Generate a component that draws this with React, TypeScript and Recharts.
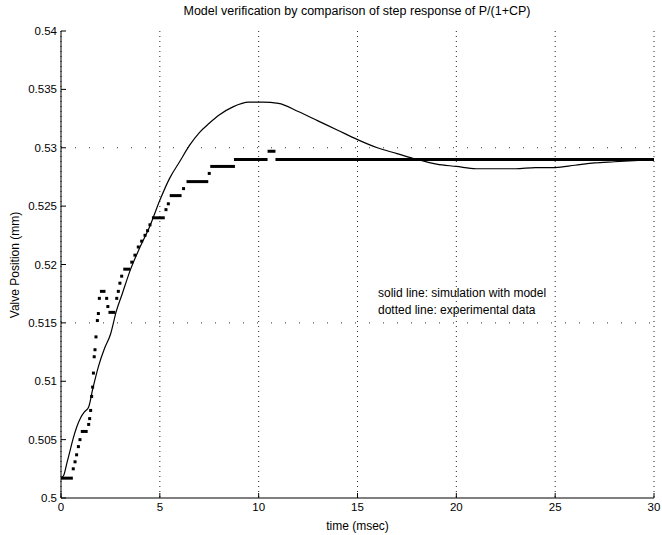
import React from 'react';
import { ComposedChart, Line, Scatter, XAxis, YAxis, CartesianGrid, ReferenceLine, Label } from 'recharts';

// simulation with model (solid line)
const simTime = [0, 0.15, 0.3, 0.45, 0.6, 0.8, 1.0, 1.2, 1.4, 1.6, 1.9, 2.2, 2.5, 2.8, 3.1, 3.5, 4.0, 4.5, 5.0, 5.5, 6.0, 6.5, 7.0, 7.5, 8.0, 8.7, 9.5, 10.2, 11.0, 12.0, 13.0, 14.0, 15.0, 16.0, 17.0, 18.0, 19.0, 20.0, 21.0, 22.0, 23.0, 24.0, 25.0, 26.0, 27.0, 28.0, 29.0, 30.0];
const simValue = [0.5017, 0.502, 0.503, 0.504, 0.505, 0.5061, 0.5069, 0.5074, 0.5078, 0.5093, 0.5113, 0.5128, 0.514, 0.516, 0.5175, 0.5195, 0.5215, 0.5233, 0.5255, 0.5274, 0.5288, 0.5302, 0.5313, 0.5321, 0.5328, 0.5335, 0.5339, 0.5339, 0.5338, 0.5331, 0.5323, 0.5315, 0.5307, 0.53, 0.5295, 0.529, 0.5286, 0.5284, 0.5282, 0.5282, 0.5282, 0.5283, 0.5283, 0.5285, 0.5287, 0.5288, 0.5289, 0.529];

// experimental data: isolated samples
const expTime = [0.62, 0.71, 0.79, 0.88, 0.96, 1.4, 1.45, 1.5, 1.55, 1.6, 1.64, 1.68, 1.72, 1.77, 1.84, 1.89, 1.94, 2.31, 2.37, 2.82, 2.9, 2.98, 3.07, 3.58, 3.74, 3.91, 4.08, 4.25, 4.38, 4.5, 5.31, 5.43, 6.2, 7.5];
const expValue = [0.5025, 0.5031, 0.5037, 0.5044, 0.505, 0.5063, 0.5068, 0.5075, 0.5087, 0.5095, 0.5107, 0.5121, 0.5127, 0.5138, 0.5152, 0.5158, 0.5171, 0.5171, 0.5164, 0.5171, 0.5177, 0.5184, 0.519, 0.5202, 0.5208, 0.5215, 0.522, 0.5225, 0.5229, 0.5234, 0.5247, 0.5252, 0.5265, 0.5278];

// experimental data: runs of samples holding one value (start, end, value)
const holdStart = [0, 1.0, 1.97, 2.4, 3.15, 4.6, 5.5, 6.35, 7.55, 8.75, 10.45, 10.85];
const holdEnd = [0.6, 1.35, 2.25, 2.75, 3.5, 5.25, 6.1, 7.45, 8.8, 10.45, 10.85, 30];
const holdValue = [0.5017, 0.5057, 0.5177, 0.5159, 0.5196, 0.524, 0.5259, 0.5271, 0.5284, 0.529, 0.5297, 0.529];

const xTicks = [0, 5, 10, 15, 20, 25, 30];
const yTicks = [0.5, 0.505, 0.51, 0.515, 0.52, 0.525, 0.53, 0.535, 0.54];

const simData = simTime.map((t, i) => ({ t, v: simValue[i] }));
const expData = expTime.map((t, i) => ({ t, v: expValue[i] }));
const holds = holdStart.map((t0, i) => [{ t: t0, v: holdValue[i] }, { t: holdEnd[i], v: holdValue[i] }]);

const font = '"Liberation Sans", Arial, sans-serif';
const tickStyle = { fontSize: 11.5, fill: '#000', fontFamily: font };

const SampleDot = (props: any) => (
  <rect x={props.cx - 1.5} y={props.cy - 1.5} width={3} height={3} fill="#000" />
);

const App = () => {
  return (
    <div style={{ position: 'absolute', left: 0, top: 0, width: 662, height: 535, background: '#fff', fontFamily: font }}>
      <div style={{ position: 'absolute', left: 0, width: 714, top: 4, textAlign: 'center', fontSize: 12.5, color: '#000' }}>
        Model verification by comparison of step response of P/(1+CP)
      </div>
      <ComposedChart width={662} height={535} margin={{ top: 31, right: 8, left: 11, bottom: 0 }}>
        <CartesianGrid horizontal={false} stroke="#222" strokeDasharray="1 4" />
        <XAxis
          type="number"
          dataKey="t"
          domain={[0, 30]}
          ticks={xTicks}
          allowDataOverflow
          height={37}
          stroke="#000"
          tickSize={-5}
          tickMargin={10}
          tick={tickStyle}
        >
          <Label value="time (msec)" position="insideBottom" offset={5} style={{ fontSize: 12, fill: '#000', fontFamily: font }} />
        </XAxis>
        <XAxis xAxisId="top" orientation="top" type="number" dataKey="t" domain={[0, 30]} ticks={xTicks} height={0} stroke="#000" tickSize={-5} tickFormatter={() => ''} />
        <YAxis
          type="number"
          domain={[0.5, 0.54]}
          ticks={yTicks}
          allowDataOverflow
          width={50}
          stroke="#000"
          tickSize={-5}
          tickMargin={9}
          tick={tickStyle}
          label={{
            content: () => (
              <text x={15} y={265} transform="rotate(-90 15 265)" textAnchor="middle" dominantBaseline="central" style={{ fontSize: 12, fill: '#000', fontFamily: font }}>
                Valve Position (mm)
              </text>
            ),
          }}
        />
        <YAxis yAxisId="r" orientation="right" type="number" domain={[0.5, 0.54]} ticks={yTicks} width={0} stroke="#000" tickSize={-5} tickFormatter={() => ''} />
        <ReferenceLine y={0.53} stroke="#333" strokeDasharray="1 13" />
        <ReferenceLine y={0.515} stroke="#333" strokeDasharray="1 13" />
        <Line data={simData} dataKey="v" type="monotone" stroke="#000" strokeWidth={1.2} dot={false} isAnimationActive={false} />
        {holds.map((seg, i) => (
          <Line key={i} data={seg} dataKey="v" type="linear" stroke="#000" strokeWidth={3} strokeLinecap="butt" dot={false} isAnimationActive={false} />
        ))}
        <Scatter data={expData} dataKey="v" shape={SampleDot} isAnimationActive={false} />
      </ComposedChart>
      <div style={{ position: 'absolute', left: 378, top: 285, fontSize: 12, lineHeight: '17px', color: '#000' }}>
        solid line: simulation with model
        <br />
        dotted line: experimental data
      </div>
    </div>
  );
};

export default App;
